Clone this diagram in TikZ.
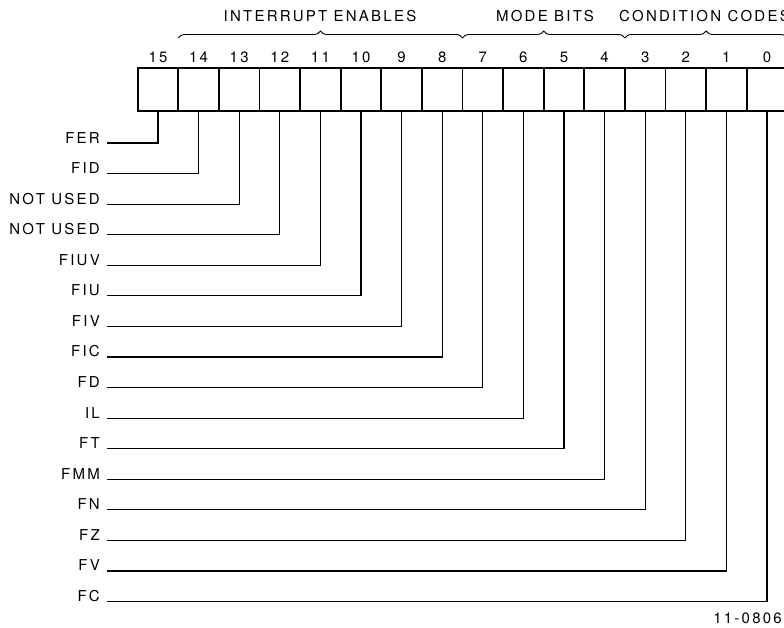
\documentclass[tikz,border=0pt]{standalone}
\usepackage{fontspec}
\setmainfont{TeX Gyre Heros}[LetterSpace=15]
\usetikzlibrary{decorations.pathreplacing}

\begin{document}
\begin{tikzpicture}
  [x=1pt,y=-1pt,every node/.style={font=\fontsize{15}{15}\selectfont,inner sep=0pt}]
 \tikzset{cell/.style={draw,line width=1.8pt,minimum width=40.6pt,minimum height=43pt},
   flag/.style={anchor=base east,inner xsep=7pt},
   EdgeStyle/.style={line width=1.2pt},
   BraceStyle/.style={line width=0.9pt,decorate,decoration={brace,amplitude=7pt}}}
 \useasboundingbox (0,0) rectangle (784,627);
 \clip (0,0) rectangle (784,627);

 % the register, bit 15 on the left
 \foreach \b in {15,...,0}
   {\node[cell] (c\b) at ({158+40.6*(15-\b)},89.5) {};
    \node (n\b) at ({158+40.6*(15-\b)},57) {\b};}

 % field braces
 \coordinate (ie1) at (178.3,38);
 \coordinate (ie2) at (462.5,38);
 \coordinate (mb2) at (624.9,38);
 \coordinate (cc2) at (787.3,38);
 \draw[BraceStyle] (ie1) -- (ie2);
 \draw[BraceStyle] (ie2) -- (mb2);
 \draw[BraceStyle] (mb2) -- (cc2);
 \node (ie) at (320,16) {INTERRUPT ENABLES};
 \node (mb) at (545,16) {MODE BITS};
 \node[anchor=east] (cc) at (790,16) {CONDITION CODES};

 % flag names
 \foreach \b/\name [count=\i from 0] in {15/FER,14/FID,13/NOT USED,12/NOT USED,11/FIUV,10/FIU,9/FIV,8/FIC,7/FD,6/IL,5/FT,4/FMM,3/FN,2/FZ,1/FV,0/FC}
   \node[flag] (f\b) at (107,{143+30.57*\i}) {\name};

 \foreach \b in {15,...,0}
    \draw[EdgeStyle] (c\b.south) |- (f\b.base east);

 \node[anchor=base east] (fig) at (782,623) {11-0806};
\end{tikzpicture}
\end{document}
